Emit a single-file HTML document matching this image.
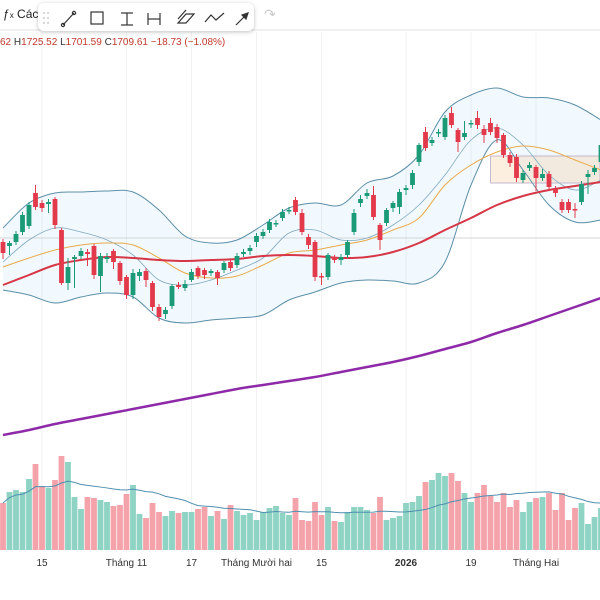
<!DOCTYPE html>
<html><head><meta charset="utf-8"><style>
body{margin:0;width:600px;height:600px;overflow:hidden;background:#fff;font-family:"Liberation Sans","Noto Sans CJK JP",sans-serif}
#wrap{position:relative;width:600px;height:600px}
svg{position:absolute;left:0;top:0}
</style></head><body><div id="wrap">
<svg id="chart" width="600" height="600"></svg>
<div style="position:absolute;left:3px;top:7px;font-size:12px;color:#222">ƒ<span style="font-size:8px">x</span> Các</div>
<div style="position:absolute;left:38px;top:3px;width:216px;height:28px;background:#fff;border-radius:6px;box-shadow:0 1px 4px rgba(0,0,0,.25)">
<svg width="216" height="28" stroke="#333" fill="none" stroke-width="1.2">
<g fill="#ccc" stroke="none"><circle cx="6" cy="10" r="1"/><circle cx="10" cy="10" r="1"/><circle cx="6" cy="15" r="1"/><circle cx="10" cy="15" r="1"/><circle cx="6" cy="20" r="1"/><circle cx="10" cy="20" r="1"/></g>
<g><line x1="25" y1="22" x2="36" y2="10"/><circle cx="25" cy="22" r="1.6"/><circle cx="36" cy="10" r="1.6"/></g>
<g><rect x="53" y="9" width="12" height="12"/></g>
<g><line x1="83" y1="10" x2="95" y2="10"/><line x1="83" y1="22" x2="95" y2="22"/><line x1="89" y1="10" x2="89" y2="22"/></g>
<g><line x1="110" y1="10" x2="110" y2="22"/><line x1="122" y1="10" x2="122" y2="22"/><line x1="110" y1="16" x2="122" y2="16"/></g>
<g><path d="M140 20 L148 11 L156 11 L148 20Z M140 16 L148 7"/></g>
<g><path d="M167 19 L173 12 L178 17 L186 10"/></g>
<g><line x1="198" y1="22" x2="210" y2="10"/><path d="M210 10 L204 12 L208 16Z" fill="#333"/></g>
</svg></div>
<div style="position:absolute;left:264px;top:6px;font-size:14px;color:#ccc">↷</div>
<div style="position:absolute;left:0;top:37px;font-size:10px;color:#c0392b;white-space:nowrap">62 <span style="color:#333">H</span>1725.52 <span style="color:#333">L</span>1701.59 <span style="color:#333">C</span>1709.61 −18.73 (−1.08%)</div>
</div>
<script>
const opens=[1617,1613,1617,1627,1633,1666,1656,1655,1660,1629,1576,1600,1603,1607,1613,1583,1600,1608,1596,1582,1564,1583,1588,1576,1552,1545,1553,1574,1571,1579,1591,1589,1586,1587,1589,1597,1594,1605,1608,1617,1623,1629,1635,1641,1648,1659,1646,1622,1617,1583,1582,1602,1599,1604,1627,1656,1663,1664,1634,1636,1651,1652,1669,1674,1697,1727,1716,1726,1722,1746,1729,1722,1735,1741,1730,1736,1732,1724,1704,1702,1679,1691,1692,1681,1685,1670,1657,1657,1650,1657,1682,1687,1697];
const closes=[1606,1616,1625,1644,1654,1652,1651,1657,1634,1576,1592,1602,1608,1605,1584,1603,1602,1597,1578,1564,1586,1587,1579,1552,1542,1549,1573,1572,1575,1587,1583,1584,1588,1581,1596,1591,1603,1607,1611,1623,1627,1637,1636,1647,1649,1647,1627,1614,1582,1582,1604,1599,1602,1617,1646,1660,1666,1642,1619,1649,1656,1667,1671,1686,1714,1711,1719,1727,1741,1734,1717,1726,1736,1734,1724,1727,1721,1704,1696,1681,1686,1694,1681,1685,1672,1666,1649,1649,1649,1675,1685,1691,1714];
const highs=[1620,1618,1628,1647,1657,1674,1659,1660,1662,1631,1601,1604,1611,1610,1615,1606,1606,1610,1598,1584,1590,1590,1591,1578,1555,1552,1575,1577,1579,1590,1593,1591,1590,1589,1598,1599,1606,1610,1614,1626,1630,1640,1639,1650,1652,1662,1650,1625,1619,1586,1606,1604,1605,1619,1650,1664,1670,1673,1636,1651,1658,1670,1674,1689,1716,1732,1722,1730,1744,1752,1731,1738,1739,1748,1734,1741,1735,1726,1707,1705,1689,1697,1694,1690,1688,1673,1660,1660,1656,1678,1689,1694,1718];
const lows=[1600,1604,1614,1624,1630,1649,1647,1646,1630,1574,1569,1571,1600,1593,1580,1567,1596,1590,1574,1560,1560,1578,1572,1548,1538,1540,1550,1570,1568,1577,1580,1580,1583,1574,1586,1588,1591,1602,1604,1612,1620,1626,1632,1638,1645,1644,1624,1610,1578,1574,1579,1596,1594,1601,1624,1652,1660,1639,1609,1633,1647,1645,1664,1670,1693,1708,1713,1722,1719,1731,1707,1719,1731,1730,1716,1724,1716,1701,1692,1677,1676,1688,1668,1678,1668,1662,1646,1646,1641,1654,1665,1684,1693];
const volumes=[47,58,60,58,71,86,64,62,70,94,88,53,41,53,52,50,48,44,45,56,65,36,32,47,38,34,39,37,38,38,41,43,34,39,31,45,39,35,37,30,38,42,44,37,35,52,30,29,48,35,43,29,28,38,43,43,40,37,53,30,32,34,47,48,54,68,70,77,74,77,69,57,48,57,65,54,48,57,43,50,38,48,52,53,57,40,57,30,42,47,26,33,42];
const bbUpper=[1631,1656,1666,1667,1668,1667,1649,1623,1616,1619,1634,1651,1656,1654,1676,1683,1704,1747,1764,1771,1762,1761,1754,1739];
const bbLower=[1569,1564,1556,1562,1566,1562,1541,1536,1539,1541,1544,1559,1567,1576,1579,1578,1576,1597,1674,1719,1689,1654,1637,1639];
const bbMid=[1597,1619,1631,1627,1619,1604,1579,1574,1579,1589,1601,1626,1629,1619,1621,1634,1654,1684,1719,1731,1714,1684,1669,1679];
const maOrange=[1592,1601,1609,1614,1616,1614,1601,1586,1581,1583,1594,1606,1609,1614,1619,1629,1641,1674,1694,1707,1713,1709,1699,1689];
const maRed=[1574,1584,1594,1599,1602,1601,1599,1598,1599,1600,1603,1604,1603,1601,1602,1607,1616,1629,1641,1654,1663,1669,1673,1677];
const maPurple=[1424,1429,1435,1440,1445,1450,1455,1460,1465,1470,1474,1478,1482,1487,1492,1497,1503,1510,1517,1526,1534,1543,1552,1561];
const timeLabels=["15","Tháng 11","17","Tháng Mười hai","15","2026","19","Tháng Hai"];
const timeLabelIdx=[6,19,29,39,49,62,72,82];
const supportLevel=1621;
const zoneTop=1703, zoneBottom=1676, zoneStartIdx=75;

const NS="http://www.w3.org/2000/svg";
const svg=document.getElementById('chart');
const X0=3, STEP=6.5, IND_STEP=4;
const xScale=i=>X0+i*STEP;
const yScale=p=>1859-p;
const vBase=550;
const vScale=v=>vBase-v;
function mk(tag,attrs,parent){const e=document.createElementNS(NS,tag);for(const k in attrs)e.setAttribute(k,attrs[k]);(parent||svg).appendChild(e);return e;}
function smooth(pts){let d=`M${pts[0][0]},${pts[0][1]}`;for(let i=0;i<pts.length-1;i++){const p0=pts[i-1]||pts[i],p1=pts[i],p2=pts[i+1],p3=pts[i+2]||p2;d+=` C${p1[0]+(p2[0]-p0[0])/6},${p1[1]+(p2[1]-p0[1])/6} ${p2[0]-(p3[0]-p1[0])/6},${p2[1]-(p3[1]-p1[1])/6} ${p2[0]},${p2[1]}`;}return d;}
const indPts=a=>a.map((v,k)=>[xScale(k*IND_STEP),yScale(v)]);

// top separator
let sep=mk('line',{x1:0,y1:30,x2:600,y2:30,stroke:'#e0e0e0'});


// grid
timeLabelIdx.forEach(i=>{const g=mk('line',{x1:xScale(i),y1:32,x2:xScale(i),y2:552,stroke:'#f3f3f3'});

});
// BB fill
const up=indPts(bbUpper), lo=indPts(bbLower);
const fillD=smooth(up)+' L'+lo[lo.length-1].join(',')+smooth(lo.slice().reverse()).replace(/^M/,' L')+'Z';
let bf=mk('path',{d:fillD,fill:'rgba(33,150,243,0.06)',stroke:'none'});


// zone rect
let zr=mk('rect',{x:xScale(zoneStartIdx),y:yScale(zoneTop),width:600-xScale(zoneStartIdx),height:yScale(zoneBottom)-yScale(zoneTop),fill:'rgba(245,190,130,0.25)',stroke:'#b8a8c8','stroke-width':0.8});


// support line
let sl=mk('line',{x1:0,y1:yScale(supportLevel),x2:600,y2:yScale(supportLevel),stroke:'#c8c8c8','stroke-width':0.8});


// indicator lines
[[bbUpper,'#5b8fa8',1,'bb-upper'],[bbLower,'#5b8fa8',1,'bb-lower'],[bbMid,'#7fa8c0',0.8,'bb-middle'],[maOrange,'#e8a94a',1,'ma-orange'],[maRed,'#d63646',2,'ma-red'],[maPurple,'#8e2aa8',2.5,'ma-purple']].forEach(([arr,c,w,n])=>{
 const p=mk('path',{d:smooth(indPts(arr)),fill:'none',stroke:c,'stroke-width':w});
 
 
});
// candles
opens.forEach((o,i)=>{
 const c=closes[i], x=xScale(i), upc=c>=o, col=upc?'#1b9a78':'#e23a4a';
 const w=mk('line',{x1:x,y1:yScale(highs[i]),x2:x,y2:yScale(lows[i]),stroke:col,'stroke-width':1});
 
 
 const top=yScale(Math.max(o,c)), h=Math.max(1.5,Math.abs(o-c));
 const b=mk('rect',{x:x-2.4,y:top,width:4.8,height:h,fill:col});
 
 
});
// volume bars
volumes.forEach((v,i)=>{
 const upc=closes[i]>=opens[i];
 const r=mk('rect',{x:xScale(i)-2.9,y:vScale(v),width:5.8,height:v,fill:upc?'#8ed3c3':'#f5a3ab'});
 
 
});
// volume MA
const vma=volumes.map((v,i)=>{const s=volumes.slice(Math.max(0,i-19),i+1);return [xScale(i),vScale(s.reduce((a,b)=>a+b,0)/s.length)];});
let vm=mk('path',{d:'M'+vma.map(p=>p.join(',')).join(' L'),fill:'none',stroke:'#4f8fb0','stroke-width':1});


// time labels
timeLabels.forEach((t,k)=>{
 const tx=mk('text',{x:xScale(timeLabelIdx[k]),y:566,'text-anchor':'middle','font-size':10,fill:'#333','font-weight':t==='2026'?'bold':'normal','font-family':'Liberation Sans, sans-serif'});
 tx.textContent=t;
 
 
});
</script>
</body></html>
